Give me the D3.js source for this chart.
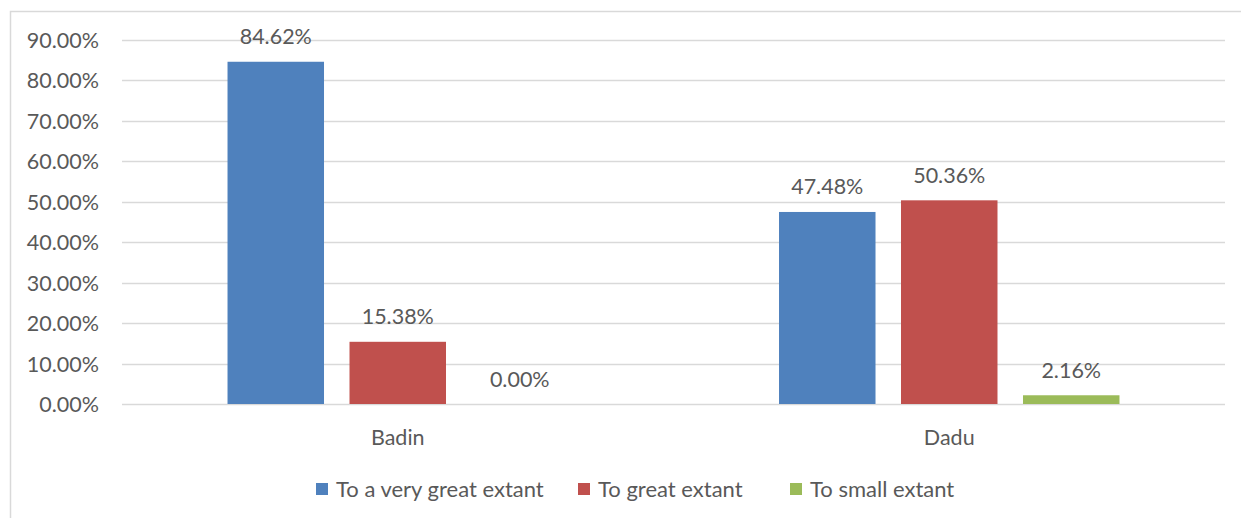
<!DOCTYPE html>
<html>
<head>
<meta charset="utf-8">
<script src="https://cdn.jsdelivr.net/npm/d3@7/dist/d3.min.js"></script>
<style>
  html, body { margin: 0; padding: 0; background: #fff; }
  svg { display: block; }
  text { font-family: Lato, "Open Sans", sans-serif; fill: #595959; }
</style>
</head>
<body>
<svg id="chart" width="1241" height="518"></svg>
<script>
const categories = ["Badin", "Dadu"];
const seriesNames = ["To a very great extant", "To great extant", "To small extant"];
const seriesColors = ["#4F81BD", "#C0504D", "#9BBB59"];
const veryGreat = [84.62, 47.48];
const great = [15.38, 50.36];
const small = [0.00, 2.16];
const yTicks = [0, 10, 20, 30, 40, 50, 60, 70, 80, 90];

const seriesValues = [veryGreat, great, small];

const svg = d3.select("#chart");
const W = 1241, H = 518;
const FS = 21.5;

// chart border
svg.append("rect")
  .attr("x", 10.5).attr("y", 11.5)
  .attr("width", W + 20).attr("height", H + 20)
  .attr("fill", "none").attr("stroke", "#d9d9d9").attr("stroke-width", 1.5);

const plot = { left: 122, right: 1225, top: 40, bottom: 404 };

const y = d3.scaleLinear().domain([0, 90]).range([plot.bottom, plot.top]);
const x0 = d3.scaleBand().domain(categories).range([plot.left, plot.right]).paddingInner(0).paddingOuter(0);
const x1 = d3.scaleBand().domain(seriesNames).range([0, x0.bandwidth()]).paddingInner(0.209).paddingOuter(0.865);

// gridlines
svg.append("g").selectAll("line").data(yTicks).join("line")
  .attr("x1", plot.left).attr("x2", plot.right)
  .attr("y1", d => Math.round(y(d)) + 0.5).attr("y2", d => Math.round(y(d)) + 0.5)
  .attr("stroke", "#d9d9d9").attr("stroke-width", 1.5);

// y axis labels
const yAxis = d3.axisLeft(y).tickValues(yTicks).tickSize(0).tickPadding(0)
  .tickFormat(d => d3.format(".2f")(d) + "%");
const gy = svg.append("g").attr("transform", `translate(99,0)`).call(yAxis);
gy.select(".domain").remove();
gy.selectAll("text").attr("font-size", FS).attr("fill", "#595959")
  .style("font-family", "Lato, 'Open Sans', sans-serif").attr("dy", "0.35em");

// x axis labels
const xAxis = d3.axisBottom(x0).tickSize(0).tickPadding(0);
const gx = svg.append("g").attr("transform", `translate(0,${plot.bottom})`).call(xAxis);
gx.select(".domain").remove();
gx.selectAll("text").attr("font-size", FS).attr("fill", "#595959")
  .style("font-family", "Lato, 'Open Sans', sans-serif").attr("dy", "0.35em").attr("y", 33);

// bars
const groups = svg.append("g").selectAll("g").data(categories).join("g")
  .attr("transform", d => `translate(${x0(d)},0)`);

groups.selectAll("rect").data((c, ci) => seriesNames.map((s, si) => ({ s, si, v: seriesValues[si][ci] })))
  .join("rect")
  .attr("x", d => x1(d.s))
  .attr("width", x1.bandwidth())
  .attr("y", d => y(d.v))
  .attr("height", d => plot.bottom - y(d.v))
  .attr("fill", d => seriesColors[d.si]);

groups.selectAll("text.lbl").data((c, ci) => seriesNames.map((s, si) => ({ s, si, v: seriesValues[si][ci] })))
  .join("text").attr("class", "lbl")
  .attr("x", d => x1(d.s) + x1.bandwidth() / 2)
  .attr("y", d => y(d.v) - 25)
  .attr("text-anchor", "middle")
  .attr("font-size", FS)
  .attr("dy", "0.35em")
  .text(d => d3.format(".2f")(d.v) + "%");

// legend
const legendX = [316, 578, 790];
const lg = svg.append("g").selectAll("g").data(seriesNames).join("g")
  .attr("transform", (d, i) => `translate(${legendX[i]},483)`);
lg.append("rect").attr("width", 12).attr("height", 12).attr("fill", (d, i) => seriesColors[i]);
lg.append("text").attr("x", 20).attr("y", 6).attr("dy", "0.35em").attr("font-size", 22).text(d => d);
</script>
</body>
</html>
